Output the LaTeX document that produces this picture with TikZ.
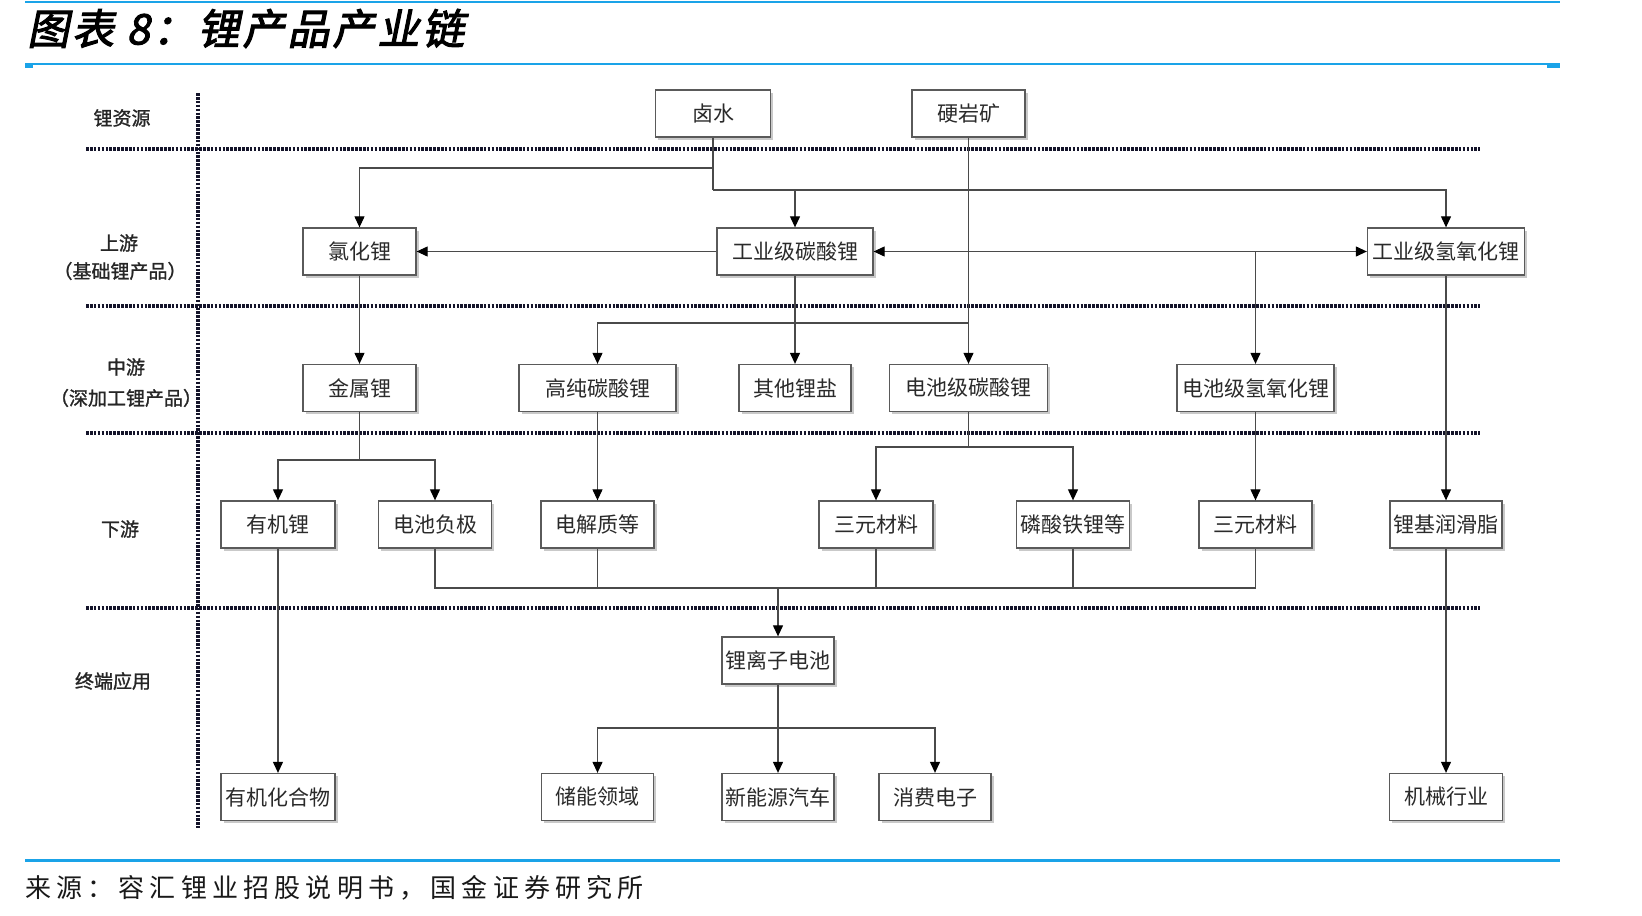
\documentclass[tikz,border=0pt]{standalone}
\usepackage{fontspec}
\newfontfamily\cjk{Noto Sans CJK SC}
\newfontfamily\cjkb[FakeBold=1.2]{Noto Sans CJK SC}
\newfontfamily\titlef[FakeSlant=0.2,FakeBold=2.5,LetterSpace=7]{Noto Sans CJK SC}
\newfontfamily\srcf[LetterSpace=20]{Noto Sans CJK SC}
\usetikzlibrary{arrows.meta,shadows}
\definecolor{blu}{HTML}{1AA3E8}
\definecolor{bordc}{HTML}{5A5A5A}
\definecolor{linec}{HTML}{4A4A4A}
\definecolor{txtc}{HTML}{2A2A2A}
\definecolor{dotc}{HTML}{14142A}
\tikzset{
  box/.style={draw=bordc, line width=1.3pt, fill=white, minimum height=47pt, inner sep=0pt,
    font=\cjk\fontsize{21pt}{25pt}\selectfont, text=txtc,
    drop shadow={shadow xshift=2.5pt, shadow yshift=-2.5pt, fill=black!35, opacity=0.6}},
  conn/.style={draw=linec, line width=1.1pt},
  arr/.style={conn, -{Triangle[length=11pt,width=10pt,color=black]}},
  lab/.style={font=\cjkb\fontsize{19pt}{23pt}\selectfont, text=black!85, inner sep=0pt},
  dotl/.style={draw=dotc, line width=3.2pt, dash pattern=on 2.6pt off 1.3pt}
}
\begin{document}
\begin{tikzpicture}[x=1pt,y=-1pt]
\useasboundingbox (0,0) rectangle (1642,916);
\fill[white] (0,0) rectangle (1642,916);

% header / footer rules
\draw[blu, line width=2pt] (25,1.5) -- (1560,1.5);
\draw[blu, line width=1.5pt] (25,64) -- (1560,64);
\fill[blu] (25,63) rectangle (33,67.5);
\fill[blu] (1547,63) rectangle (1560,67.5);
\draw[blu, line width=3pt] (25,860) -- (1560,860);

\node[anchor=west, inner sep=0pt, font=\titlef\fontsize{42pt}{46pt}\selectfont] (title) at (27,28.5) {图表 8：锂产品产业链};
\node[anchor=west, inner sep=0pt, font=\srcf\fontsize{26pt}{30pt}\selectfont, text=black!90] (src) at (25,888) {来源：容汇锂业招股说明书，国金证券研究所};

% dotted grid
\draw[dotl] (198,93) -- (198,828);
\draw[dotl] (86,149) -- (1480,149);
\draw[dotl] (86,306) -- (1480,306);
\draw[dotl] (86,433) -- (1480,433);
\draw[dotl] (86,608) -- (1480,608);

% row labels
\node[lab] (r1) at (122,118) {锂资源};
\node[lab] (r2a) at (119,243) {上游};
\node[lab] (r2b) at (120,271) {（基础锂产品）};
\node[lab] (r3a) at (126,367) {中游};
\node[lab] (r3b) at (126,398) {（深加工锂产品）};
\node[lab] (r4) at (120,529) {下游};
\node[lab] (r5) at (113,681) {终端应用};

% boxes
\node[box, minimum width=115pt] (ls) at (713,113.5) {卤水};
\node[box, minimum width=113pt] (yy) at (968.5,113.5) {硬岩矿};
\node[box, minimum width=113pt] (lhl) at (359.5,251.5) {氯化锂};
\node[box, minimum width=156pt] (gtl) at (795,251.5) {工业级碳酸锂};
\node[box, minimum width=157pt] (gql) at (1446,251.5) {工业级氢氧化锂};

\node[box, minimum width=113pt] (jsl) at (359.5,388) {金属锂};
\node[box, minimum width=157pt] (gct) at (597.5,388) {高纯碳酸锂};
\node[box, minimum width=112pt] (qt) at (795,388) {其他锂盐};
\node[box, minimum width=158pt] (dct) at (968.5,388) {电池级碳酸锂};
\node[box, minimum width=157pt] (dql) at (1255.5,388) {电池级氢氧化锂};

\node[box, minimum width=114pt] (yjl) at (278,524.5) {有机锂};
\node[box, minimum width=113pt] (dcf) at (435,524.5) {电池负极};
\node[box, minimum width=113pt] (djz) at (597.5,524.5) {电解质等};
\node[box, minimum width=114pt] (sy1) at (876,524.5) {三元材料};
\node[box, minimum width=113pt] (lst) at (1073,524.5) {磷酸铁锂等};
\node[box, minimum width=113pt] (sy2) at (1255.5,524.5) {三元材料};
\node[box, minimum width=112pt] (ljr) at (1446,524.5) {锂基润滑脂};

\node[box, minimum width=112pt] (lz) at (778,660.5) {锂离子电池};

\node[box, minimum width=114pt] (yjh) at (278,797) {有机化合物};
\node[box, minimum width=112pt] (cn) at (597.5,797) {储能领域};
\node[box, minimum width=112pt] (xny) at (778,797) {新能源汽车};
\node[box, minimum width=112pt] (xf) at (935,797) {消费电子};
\node[box, minimum width=113pt] (jx) at (1446,797) {机械行业};

% connectors
\coordinate (a1) at (713,168);
\coordinate (a2) at (713,190);
\draw[conn] (ls.south) -- (a2);
\draw[arr] (a1) -| (lhl.north);
\draw[arr] (a2) -| (gql.north);
\draw[arr] (gtl.north |- a2) -- (gtl.north);
\draw[arr] (gtl.west) -- (lhl.east);

\coordinate (b1) at (968.5,251.5);
\coordinate (b2) at (968.5,323);
\draw[arr] (yy.south) -- (dct.north);
\draw[arr] (b1) -- (gtl.east);
\draw[arr] (b1) -- (gql.west);
\draw[arr] (dql.north |- b1) -- (dql.north);
\draw[arr] (b2) -| (gct.north);

\draw[arr] (lhl.south) -- (jsl.north);
\draw[arr] (gtl.south) -- (qt.north);

\coordinate (c1) at (359.5,460);
\draw[conn] (jsl.south) -- (c1);
\draw[arr] (c1) -| (yjl.north);
\draw[arr] (c1) -| (dcf.north);
\draw[arr] (gct.south) -- (djz.north);
\coordinate (c2) at (968.5,447);
\draw[conn] (dct.south) -- (c2);
\draw[arr] (c2) -| (sy1.north);
\draw[arr] (c2) -| (lst.north);
\draw[arr] (dql.south) -- (sy2.north);
\draw[arr] (gql.south) -- (ljr.north);

\coordinate (d1) at (778,588);
\draw[conn] (dcf.south) |- (sy2.south |- d1) -- (sy2.south);
\draw[conn] (djz.south) -- (djz.south |- d1);
\draw[conn] (sy1.south) -- (sy1.south |- d1);
\draw[conn] (lst.south) -- (lst.south |- d1);
\draw[arr] (d1) -- (lz.north);

\draw[arr] (yjl.south) -- (yjh.north);
\coordinate (e1) at (778,728);
\draw[conn] (lz.south) -- (e1);
\draw[arr] (e1) -| (cn.north);
\draw[arr] (e1) -- (xny.north);
\draw[arr] (e1) -| (xf.north);
\draw[arr] (ljr.south) -- (jx.north);
\end{tikzpicture}
\end{document}
